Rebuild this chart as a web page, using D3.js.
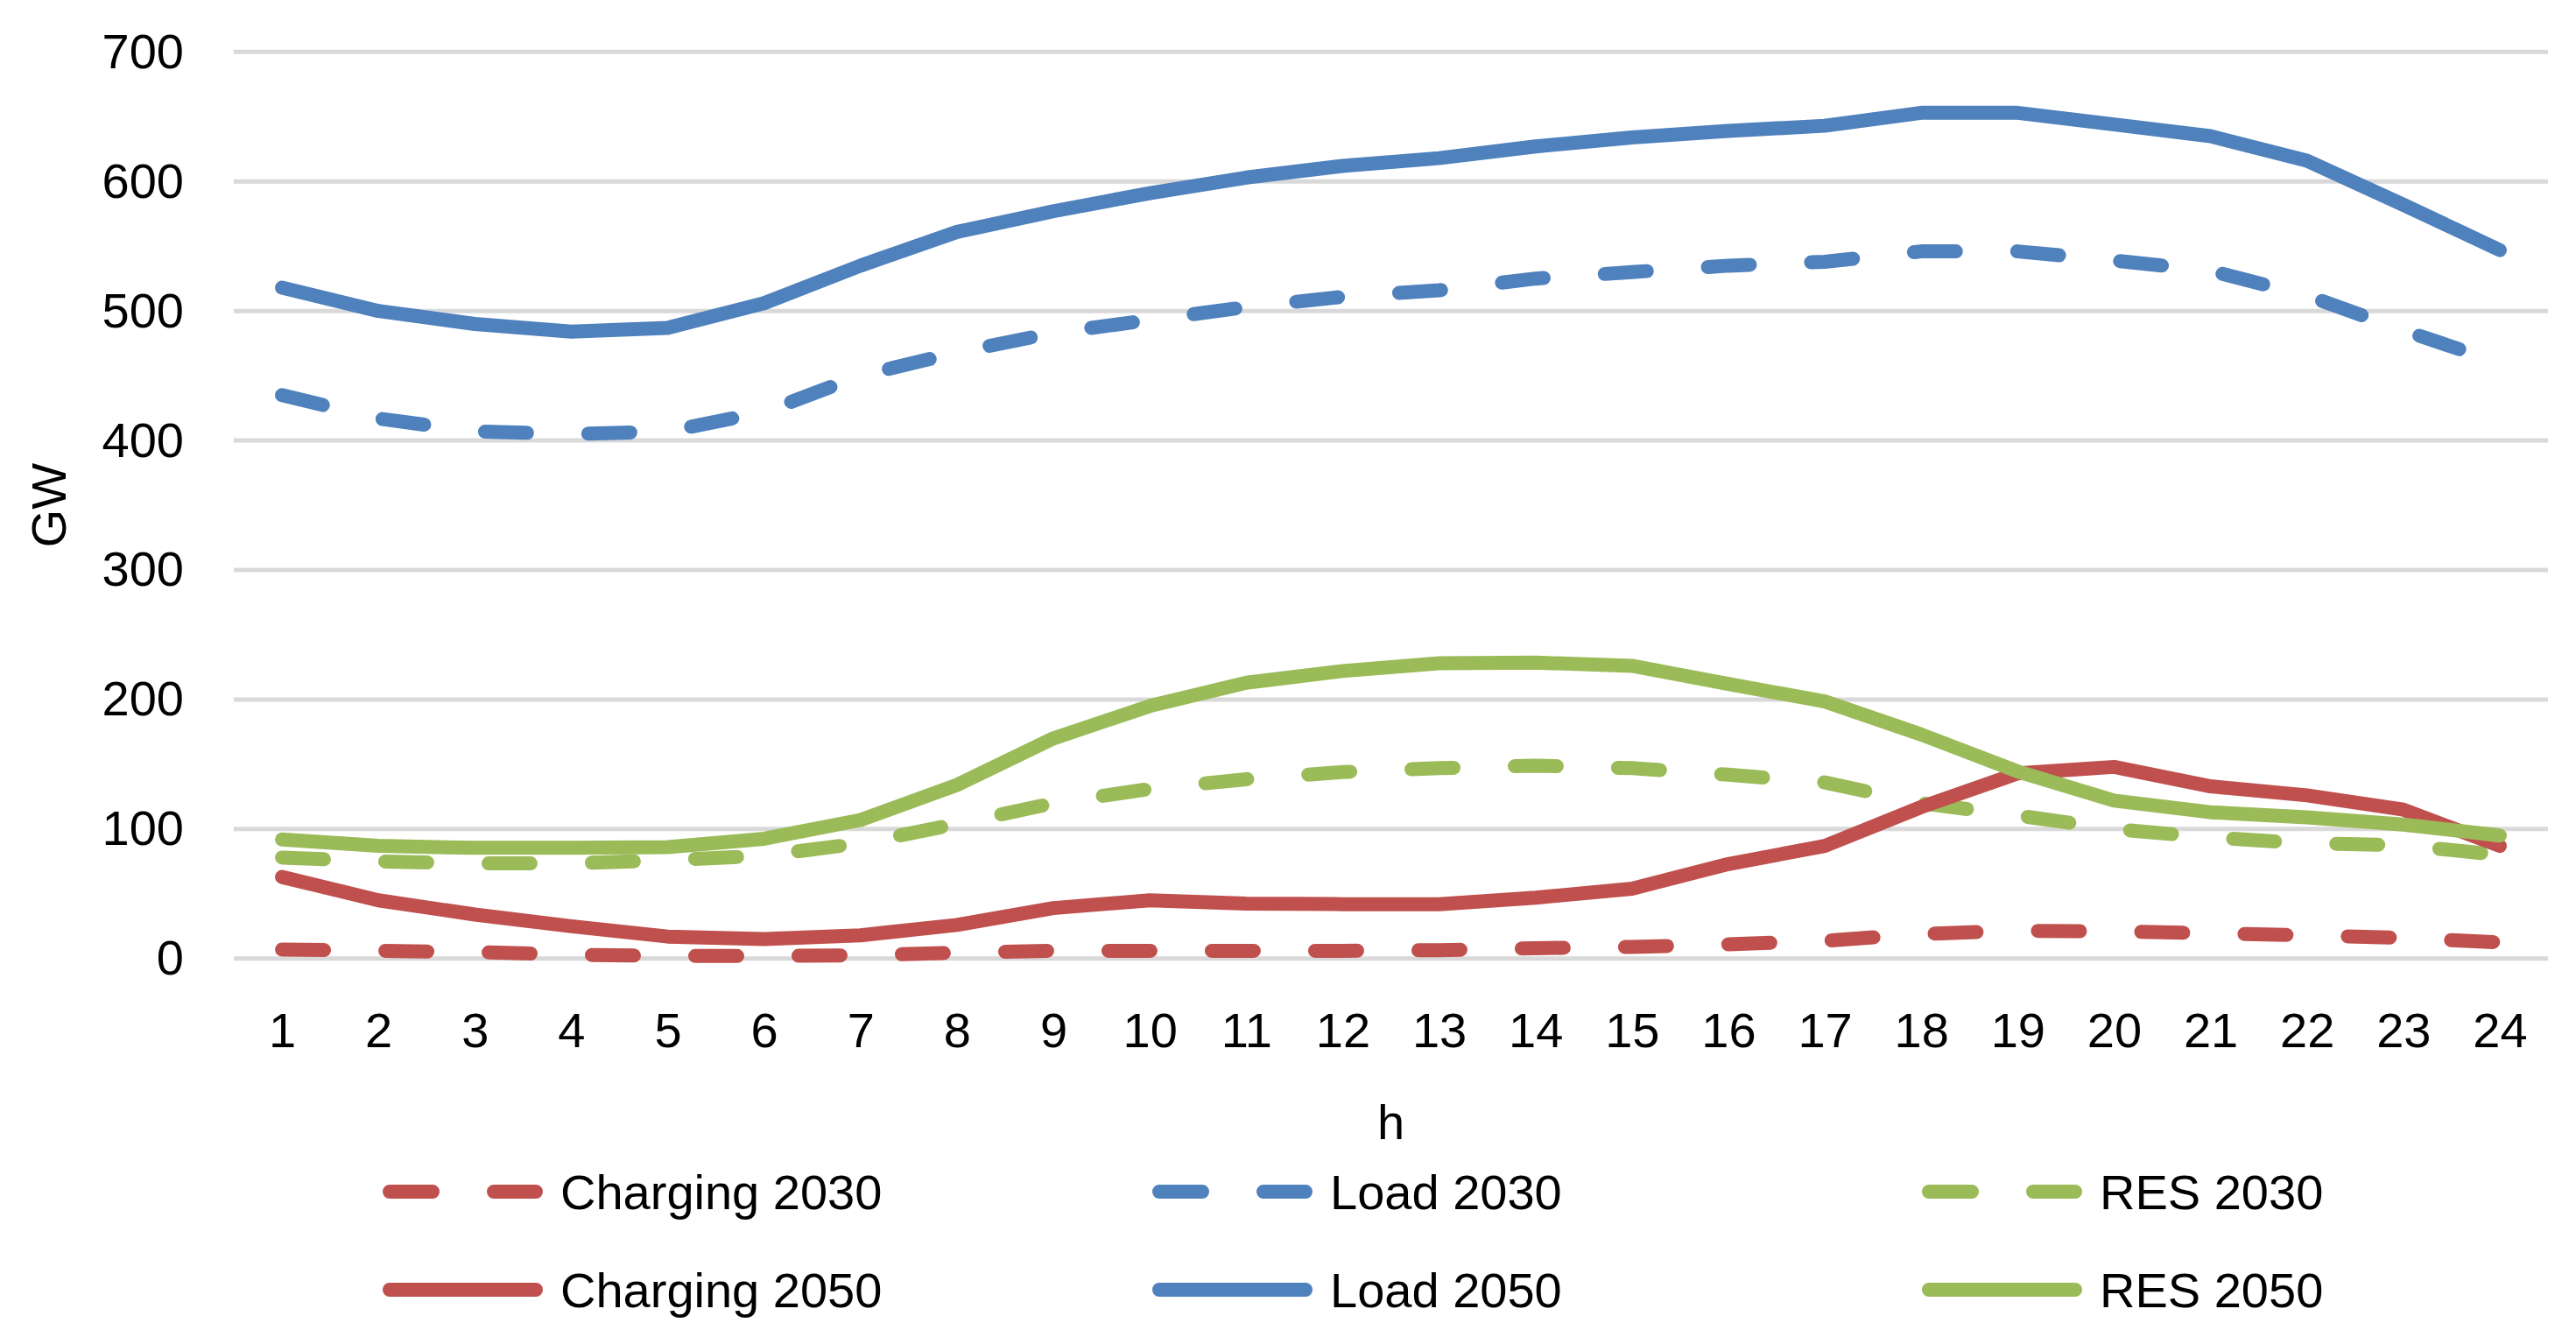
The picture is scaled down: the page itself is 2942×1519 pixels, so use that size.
<!DOCTYPE html>
<html>
<head>
<meta charset="utf-8">
<script src="https://cdn.jsdelivr.net/npm/d3@7"></script>
<style>
  html, body { margin: 0; padding: 0; background: #fff; }
  svg { display: block; }
  text { font-family: "Liberation Sans", Arial, sans-serif; fill: #000; }
</style>
</head>
<body>
<svg id="chart" width="2942" height="1519"></svg>
<script>
// ---- data ----
const hours = ["1","2","3","4","5","6","7","8","9","10","11","12","13","14","15","16","17","18","19","20","21","22","23","24"];
const yTicks = [0, 100, 200, 300, 400, 500, 600, 700];

const charging2030 = [7, 6, 5, 3, 2, 2, 2.5, 4.5, 6, 6, 6, 6, 6.5, 8, 9, 11, 13.7, 19, 21.5, 21, 19.5, 18, 16, 12.5];
const load2030     = [435, 417, 407, 405, 407, 422, 450, 468, 483, 493, 503, 511, 516, 525, 530, 535, 538, 546, 546, 539, 531, 512, 485, 460];
const res2030      = [78, 75, 73.5, 73.5, 76, 79.5, 89, 104, 120, 131, 138.5, 144, 147, 149, 147, 142, 136, 120, 110.5, 100, 93.5, 89, 87.5, 80];
const charging2050 = [63, 45, 34, 25, 17, 15, 18, 26, 39, 45, 42.5, 42, 42, 47, 54, 73, 87, 117, 143, 148, 133, 126, 115, 87];
const load2050     = [518, 500, 490, 484, 487, 506, 535, 561, 577, 591, 603, 612, 618, 627, 634, 639, 643, 653, 653, 644, 635, 616, 582, 547];
const res2050      = [92, 87, 85.5, 85.5, 86, 92.5, 107, 134, 170, 195, 213, 222, 228, 228.5, 226, 212, 198.5, 173, 144.5, 122, 113, 109, 103.5, 95];

const seriesNames = ["Charging 2030", "Load 2030", "RES 2030", "Charging 2050", "Load 2050", "RES 2050"];
const seriesValues = [charging2030, load2030, res2030, charging2050, load2050, res2050];
const seriesColors = ["#C0504D", "#4F81BD", "#9BBB59", "#C0504D", "#4F81BD", "#9BBB59"];
const seriesDashed = [true, true, true, false, false, false];

// ---- layout ----
const svg = d3.select("#chart");
const plotL = 267, plotR = 2910, plotT = 59.3, plotB = 1094.8;
const fontSize = 56;
const lineW = 16;
const dash = "48,70";

const x = d3.scalePoint().domain(hours).range([plotL, plotR]).padding(0.5);
const y = d3.scaleLinear().domain([0, 700]).range([plotB, plotT]);

// gridlines
svg.append("g").selectAll("line").data(yTicks).join("line")
  .attr("x1", plotL).attr("x2", plotR)
  .attr("y1", d => y(d)).attr("y2", d => y(d))
  .attr("stroke", "#D9D9D9").attr("stroke-width", 5);

// y axis labels
const yAxis = svg.append("g").attr("transform", `translate(${plotL},0)`)
  .call(d3.axisLeft(y).tickValues(yTicks).tickSize(0).tickPadding(57));
yAxis.select(".domain").remove();
yAxis.selectAll("text").attr("font-size", fontSize).attr("font-family", "Liberation Sans, Arial, sans-serif").attr("fill", "#000");

// x axis labels
const xAxis = svg.append("g").attr("transform", `translate(0,${plotB})`)
  .call(d3.axisBottom(x).tickSize(0));
xAxis.select(".domain").remove();
xAxis.selectAll("text").attr("y", 1196 - plotB).attr("dy", 0)
  .attr("font-size", fontSize).attr("font-family", "Liberation Sans, Arial, sans-serif").attr("fill", "#000");

// axis titles
svg.append("text").attr("transform", `translate(75,${(plotT + plotB) / 2}) rotate(-90)`)
  .attr("text-anchor", "middle").attr("font-size", fontSize).text("GW");
svg.append("text").attr("x", (plotL + plotR) / 2).attr("y", 1301)
  .attr("text-anchor", "middle").attr("font-size", fontSize).text("h");

// lines
const lineGen = d3.line()
  .x((d, i) => x(hours[i]))
  .y(d => y(d))
  .curve(d3.curveLinear);

svg.append("g").selectAll("path").data(seriesValues).join("path")
  .attr("d", d => lineGen(d))
  .attr("fill", "none")
  .attr("stroke", (d, i) => seriesColors[i])
  .attr("stroke-width", lineW)
  .attr("stroke-linecap", "round")
  .attr("stroke-linejoin", "round")
  .attr("stroke-dasharray", (d, i) => seriesDashed[i] ? dash : null);

// legend
const legX0 = 437, legColStep = 879, legY0 = 1361, legRowStep = 112, legLen = 183, legTextOff = 203;
const leg = svg.append("g");
seriesNames.forEach((name, i) => {
  const col = i % 3, row = Math.floor(i / 3);
  const lx = legX0 + col * legColStep;
  const ly = legY0 + row * legRowStep;
  leg.append("line")
    .attr("x1", lx + lineW / 2).attr("x2", lx + legLen - lineW / 2)
    .attr("y1", ly).attr("y2", ly)
    .attr("stroke", seriesColors[i]).attr("stroke-width", lineW)
    .attr("stroke-linecap", "round")
    .attr("stroke-dasharray", seriesDashed[i] ? "49,70" : null);
  leg.append("text").attr("x", lx + legTextOff).attr("y", ly + 20)
    .attr("font-size", fontSize).text(name);
});
</script>
</body>
</html>
